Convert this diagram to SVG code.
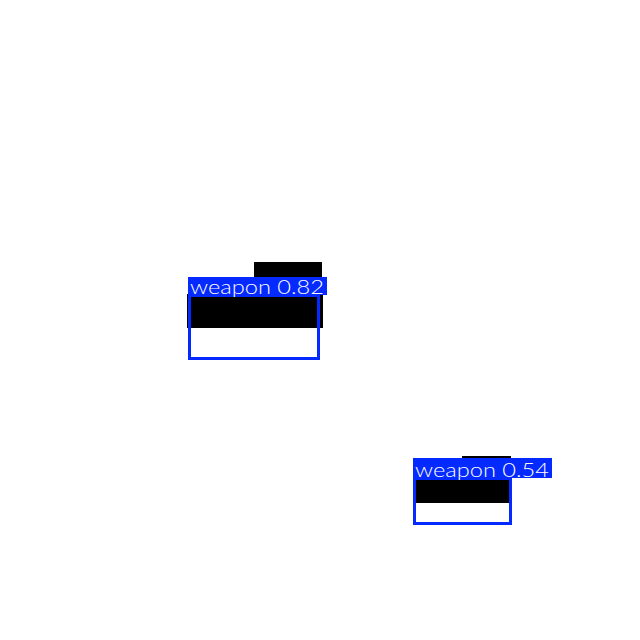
<svg xmlns="http://www.w3.org/2000/svg" width="640" height="640" viewBox="0 0 640 640">
<style>
.obj{fill:#000}
.box{fill:none;stroke:#042AFF;stroke-width:3}
.lbl{fill:#042AFF}
.t{fill:#fff;font-family:"Lato","DejaVu Sans",sans-serif;font-weight:300;font-size:20px}
</style>
<rect width="640" height="640" fill="#fff"/>
<g id="det1">
<rect class="obj" x="254" y="262" width="68" height="20"/>
<rect class="obj" x="187" y="294" width="136" height="34"/>
<rect class="box" x="189.5" y="295.5" width="129" height="63"/>
<rect class="lbl" x="188" y="277" width="139" height="18"/>
<text class="t" x="190" y="294" textLength="134" lengthAdjust="spacingAndGlyphs">weapon 0.82</text>
</g>
<g id="det2">
<rect class="obj" x="462" y="456" width="49" height="6"/>
<rect class="obj" x="414" y="478" width="97" height="25"/>
<rect class="box" x="414.5" y="478.5" width="96" height="45"/>
<rect class="lbl" x="413" y="458" width="139" height="20"/>
<text class="t" x="415" y="477" textLength="134" lengthAdjust="spacingAndGlyphs">weapon 0.54</text>
</g>
<g id="connectors"/>
</svg>
